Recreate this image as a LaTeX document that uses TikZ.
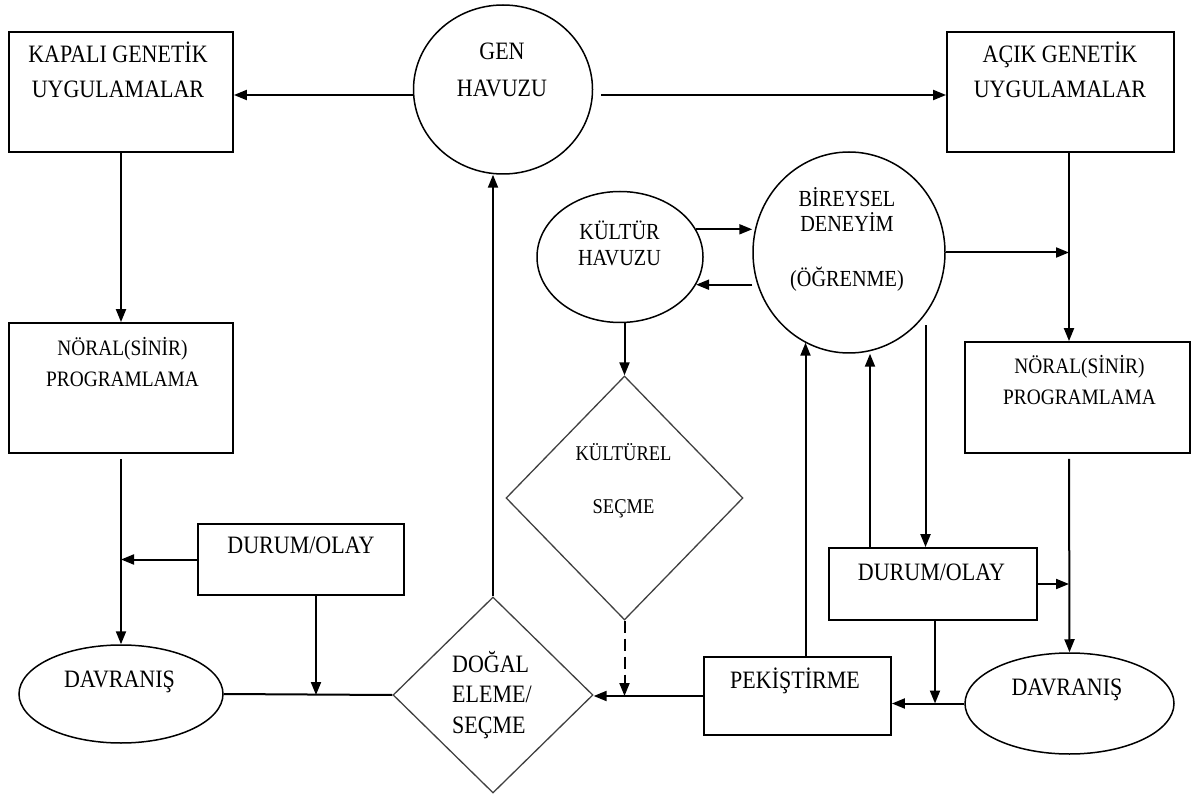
\documentclass[tikz,border=0pt]{standalone}
\usepackage{fontspec}
\setmainfont{Liberation Serif}[FakeStretch=0.88]
\usetikzlibrary{shapes.geometric,arrows.meta}

\tikzset{
  kutu/.style={draw, line width=1.8pt, inner sep=0pt},
  yuvarlak/.style={draw, ellipse, line width=1.5pt, inner sep=0pt},
  baklava/.style={draw=black!75, diamond, line width=1.3pt, inner sep=0pt},
  yazi/.style={font=\fontsize{25}{35}\selectfont, align=center, anchor=base, inner sep=0pt},
  ok/.style={line width=2pt, -{Triangle[length=13pt,width=10pt]}},
  cizgi/.style={line width=2pt}
}

\begin{document}
\begin{tikzpicture}[x=1pt, y=-1pt]
\useasboundingbox (0,0) rectangle (1194,799);

% sekiller
\node[kutu, minimum width=224pt, minimum height=120pt] (kapali) at (121,92) {};
\node[kutu, minimum width=227pt, minimum height=120pt] (acik) at (1060.5,92) {};
\node[kutu, minimum width=224pt, minimum height=130pt] (noral1) at (121,388) {};
\node[kutu, minimum width=225pt, minimum height=111pt] (noral2) at (1077.5,397.5) {};
\node[kutu, minimum width=206pt, minimum height=71pt] (durum1) at (301,559.5) {};
\node[kutu, minimum width=208pt, minimum height=72pt] (durum2) at (933,584) {};
\node[kutu, minimum width=187pt, minimum height=78pt] (pek) at (797.5,696) {};
\node[yuvarlak, minimum width=179pt, minimum height=169pt] (gen) at (503,89.5) {};
\node[yuvarlak, minimum width=166pt, minimum height=131pt] (kultur) at (620,257) {};
\node[yuvarlak, minimum width=192pt, minimum height=201pt] (bireysel) at (849,252.5) {};
\node[yuvarlak, minimum width=204pt, minimum height=98pt] (davranis1) at (121,694) {};
\node[yuvarlak, minimum width=209pt, minimum height=101pt] (davranis2) at (1069.5,703.5) {};
\node[baklava, minimum width=200pt, minimum height=196pt] (dogal) at (493,695) {};
\node[baklava, minimum width=237pt, minimum height=244pt] (kulturel) at (624.5,498) {};

% yazilar (cok satirda taban cizgisi son satirdir)
\node[yazi] (kapali-y) at (118,98) {KAPALI GENETİK\\UYGULAMALAR};
\node[yazi] (acik-y) at (1060,98) {AÇIK GENETİK\\UYGULAMALAR};
\node[yazi, font=\fontsize{25}{37}\selectfont] (gen-y) at (502,97) {GEN\\HAVUZU};
\node[yazi, font=\fontsize{22}{32}\selectfont] (noral1-y) at (122.5,387) {NÖRAL(SİNİR)\\PROGRAMLAMA};
\node[yazi, font=\fontsize{22}{31}\selectfont] (noral2-y) at (1079.5,404) {NÖRAL(SİNİR)\\PROGRAMLAMA};
\node[yazi] (durum1-y) at (301,553) {DURUM/OLAY};
\node[yazi] (durum2-y) at (931.5,580) {DURUM/OLAY};
\node[yazi] (davranis1-y) at (119.5,687) {DAVRANIŞ};
\node[yazi] (davranis2-y) at (1067,695) {DAVRANIŞ};
\node[yazi] (pek-y) at (795,688) {PEKİŞTİRME};
\node[yazi, font=\fontsize{25}{30.5}\selectfont, align=left, anchor=base west] (dogal-y) at (452,733) {DOĞAL\\ELEME/\\SEÇME};
\node[yazi, font=\fontsize{23}{26}\selectfont] (kultur-y) at (619.5,266) {KÜLTÜR\\HAVUZU};
\node[yazi, font=\fontsize{21}{53}\selectfont] (kulturel-y) at (623.5,513) {KÜLTÜREL\\SEÇME};
\node[yazi, font=\fontsize{23}{25}\selectfont] (bireysel-y) at (847,287) {BİREYSEL\\DENEYİM\\[30pt](ÖĞRENME)};

\coordinate (sagx) at (1069,0);
\coordinate (ust) at (0,95);

% oklar
\draw[ok] (gen.west |- ust) -- (kapali.east |- ust);
\draw[ok] (gen.east |- ust) ++(8,0) -- (acik.west |- ust);
\draw[ok] (kapali.south) -- (noral1.north);
\draw[ok] (noral1.south) ++(0,5) -- (davranis1.north);
\draw[ok] (durum1.west) -- (noral1.south |- durum1.west);
\draw[ok] (durum1.south) ++(15,0) coordinate (d1) -- (d1 |- dogal.west);
\draw[cizgi] (davranis1.east) -- (dogal.west);
\draw[ok] (dogal.north) -- (dogal.north |- gen.south);
\draw[ok] (kultur.20) -- (kultur.20 -| bireysel.west);
\draw[ok] (kultur.-20 -| bireysel.west) -- (kultur.-20);
\draw[ok] (kultur.south -| kulturel.north) -- (kulturel.north);
\draw[ok, dash pattern=on 12pt off 6pt] (kulturel.south) -- (kulturel.south |- pek.west);
\draw[ok] (bireysel.east) -- (bireysel.east -| sagx);
\draw[ok] (acik.south -| sagx) -- (noral2.north -| sagx);
\draw[ok] (noral2.south -| sagx) ++(0,5) -- (davranis2.north);
\draw[ok] (durum2.east) -- (durum2.east -| sagx);
\draw[ok] (bireysel.-39) ++(0,11) coordinate (b1) -- (b1 |- durum2.north);
\draw[ok] (durum2.north) ++(-63,0) coordinate (d2) -- (d2 |- bireysel.south);
\draw[ok] (pek.north) ++(8,0) coordinate (p1) -- (p1 |- bireysel.-116);
\draw[ok] (durum2.south) ++(2,0) coordinate (d3) -- (d3 |- davranis2.west);
\draw[ok] (davranis2.west) -- (davranis2.west -| pek.east);
\draw[ok] (pek.west) -- (pek.west -| dogal.east);
\end{tikzpicture}
\end{document}
